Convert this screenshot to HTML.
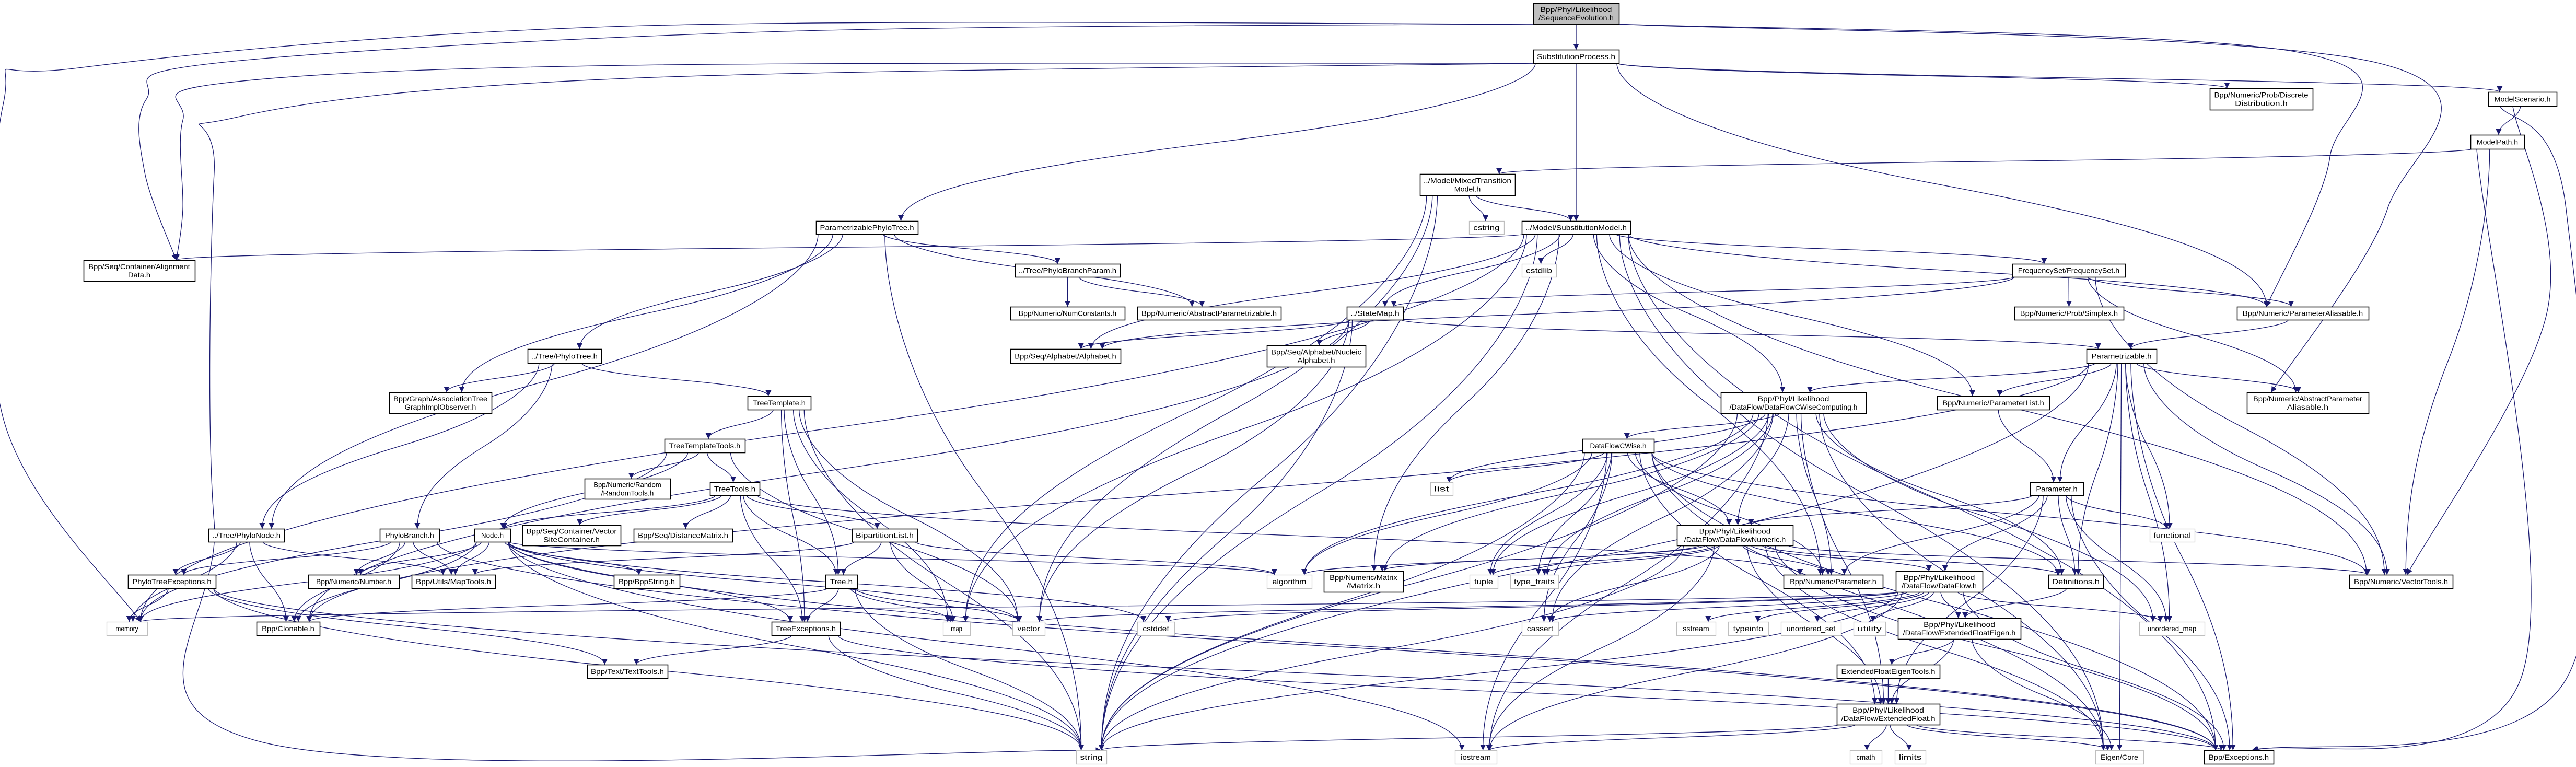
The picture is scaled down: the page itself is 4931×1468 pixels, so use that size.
<!DOCTYPE html>
<html><head><meta charset="utf-8">
<style>
html,body{margin:0;padding:0;background:#fff;}
svg{display:block;}
text{font-family:"Liberation Sans",sans-serif;font-size:14px;fill:#000;}
</style></head>
<body>
<svg id="g" xmlns="http://www.w3.org/2000/svg" width="4931" height="1468" viewBox="0 0 4931 1468">
<defs><marker id="a" viewBox="0 0 10 10" refX="10" refY="5" markerWidth="11" markerHeight="11" markerUnits="userSpaceOnUse" orient="auto"><path d="M0,0 L10,5 L0,10 z" fill="#191970"/></marker></defs>
<g id="edges" fill="none" stroke="#191970" stroke-width="1.3"></g>
<g id="nodes"></g>
</svg>
<div id="lbl" style="display:none">
Bpp/Phyl/Likelihood /SequenceEvolution.h SubstitutionProcess.h ../Model/MixedTransition Model.h cstring ../Model/SubstitutionModel.h cstdlib ../StateMap.h Bpp/Seq/Alphabet/Nucleic Alphabet.h Bpp/Seq/Container/Alignment Data.h ../Tree/PhyloTree.h ParametrizablePhyloTree.h ../Tree/PhyloBranchParam.h Bpp/Numeric/NumConstants.h Bpp/Numeric/AbstractParametrizable.h Bpp/Seq/Alphabet/Alphabet.h Bpp/Numeric/Prob/Discrete Distribution.h ModelScenario.h ModelPath.h FrequencySet/FrequencySet.h Bpp/Numeric/Prob/Simplex.h Bpp/Numeric/ParameterAliasable.h Parametrizable.h Bpp/Graph/AssociationTree GraphImplObserver.h Bpp/Numeric/Random /RandomTools.h ../Tree/PhyloNode.h PhyloBranch.h Node.h Bpp/Seq/Container/Vector SiteContainer.h Bpp/Seq/DistanceMatrix.h PhyloTreeExceptions.h Bpp/Numeric/Number.h Bpp/Utils/MapTools.h Bpp/BppString.h memory Bpp/Clonable.h Bpp/Text/TextTools.h TreeTemplate.h TreeTemplateTools.h TreeTools.h BipartitionList.h Tree.h TreeExceptions.h map vector cstddef string algorithm /DataFlow/DataFlowCWiseComputing.h DataFlowCWise.h list /DataFlow/DataFlowNumeric.h Bpp/Numeric/Matrix /Matrix.h tuple type_traits Bpp/Numeric/Parameter.h /DataFlow/DataFlow.h cassert sstream typeinfo unordered_set utility /DataFlow/ExtendedFloatEigen.h ExtendedFloatEigenTools.h /DataFlow/ExtendedFloat.h iostream cmath limits Bpp/Numeric/ParameterList.h Bpp/Numeric/AbstractParameter Aliasable.h Parameter.h functional Definitions.h Bpp/Numeric/VectorTools.h unordered_map Eigen/Core Bpp/Exceptions.h
</div>
<script>
var N={
SE:[2935,6,164,40,["Bpp/Phyl/Likelihood","/SequenceEvolution.h"],2],
SP:[2935,95,164,26,["SubstitutionProcess.h"]],
MTM:[2718,333,182,41,["../Model/MixedTransition","Model.h"]],
cstring:[2812,423,67,25,["cstring"],1],
SM:[2913,423,208,25,["../Model/SubstitutionModel.h"]],
cstdlib:[2913,505,66,25,["cstdlib"],1],
StateMap:[2578,587,108,25,["../StateMap.h"]],
NucAlph:[2425,661,189,41,["Bpp/Seq/Alphabet/Nucleic","Alphabet.h"]],
AlignData:[160,498,213,40,["Bpp/Seq/Container/Alignment","Data.h"]],
PhyloTree:[1010,668,141,27,["../Tree/PhyloTree.h"]],
PPT:[1562,423,195,25,["ParametrizablePhyloTree.h"]],
PBP:[1943,505,201,25,["../Tree/PhyloBranchParam.h"]],
NumConst:[1934,587,219,25,["Bpp/Numeric/NumConstants.h"]],
AbsParam:[2177,587,275,25,["Bpp/Numeric/AbstractParametrizable.h"]],
Alphabet:[1934,668,211,27,["Bpp/Seq/Alphabet/Alphabet.h"]],
DiscDist:[4230,169,197,41,["Bpp/Numeric/Prob/Discrete","Distribution.h"]],
MScen:[4763,176,131,27,["ModelScenario.h"]],
MPath:[4729,258,103,27,["ModelPath.h"]],
FreqSet:[3852,505,216,25,["FrequencySet/FrequencySet.h"]],
Simplex:[3856,587,209,25,["Bpp/Numeric/Prob/Simplex.h"]],
ParAli:[4282,587,252,25,["Bpp/Numeric/ParameterAliasable.h"]],
Parametrizable:[3994,668,134,27,["Parametrizable.h"]],
ATGIO:[745,751,196,40,["Bpp/Graph/AssociationTree","GraphImplObserver.h"]],
RandomTools:[1119,916,164,39,["Bpp/Numeric/Random","/RandomTools.h"]],
PhyloNode:[399,1012,145,25,["../Tree/PhyloNode.h"]],
PhyloBranch:[727,1012,114,25,["PhyloBranch.h"]],
Node:[908,1012,69,25,["Node.h"]],
VSC:[1000,1005,188,39,["Bpp/Seq/Container/Vector","SiteContainer.h"]],
DistMat:[1213,1012,189,25,["Bpp/Seq/DistanceMatrix.h"]],
PTE:[245,1100,168,26,["PhyloTreeExceptions.h"]],
Number:[590,1100,174,26,["Bpp/Numeric/Number.h"]],
MapTools:[788,1100,160,26,["Bpp/Utils/MapTools.h"]],
BppString:[1175,1100,126,26,["Bpp/BppString.h"]],
memory:[204,1190,78,26,["memory"],1],
Clonable:[491,1190,121,26,["Bpp/Clonable.h"]],
TextTools:[1124,1272,154,26,["Bpp/Text/TextTools.h"]],
TreeTemplate:[1431,758,121,26,["TreeTemplate.h"]],
TTT:[1272,840,154,26,["TreeTemplateTools.h"]],
TreeTools:[1359,923,95,25,["TreeTools.h"]],
BipList:[1631,1012,125,25,["BipartitionList.h"]],
Tree:[1580,1100,61,26,["Tree.h"]],
TreeExc:[1477,1190,131,26,["TreeExceptions.h"]],
map:[1805,1190,52,26,["map"],1],
vector:[1938,1190,62,26,["vector"],1],
cstddef:[2177,1190,71,26,["cstddef"],1],
string:[2060,1436,58,26,["string"],1],
algorithm:[2425,1100,86,26,["algorithm"],1],
DFCWC:[3294,751,278,40,["Bpp/Phyl/Likelihood","/DataFlow/DataFlowCWiseComputing.h"]],
DFCW:[3029,840,137,26,["DataFlowCWise.h"]],
list:[2738,923,43,25,["list"],1],
DFN:[3210,1005,222,39,["Bpp/Phyl/Likelihood","/DataFlow/DataFlowNumeric.h"]],
Matrix:[2534,1093,152,40,["Bpp/Numeric/Matrix","/Matrix.h"]],
tuple:[2813,1100,54,26,["tuple"],1],
type_traits:[2891,1100,92,26,["type_traits"],1],
NParam:[3414,1100,190,26,["Bpp/Numeric/Parameter.h"]],
DataFlow:[3629,1093,166,40,["Bpp/Phyl/Likelihood","/DataFlow/DataFlow.h"]],
cassert:[2913,1190,70,26,["cassert"],1],
sstream:[3209,1190,75,26,["sstream"],1],
typeinfo:[3308,1190,77,26,["typeinfo"],1],
unordered_set:[3409,1190,115,26,["unordered_set"],1],
utility:[3548,1190,61,26,["utility"],1],
EFE:[3633,1183,235,40,["Bpp/Phyl/Likelihood","/DataFlow/ExtendedFloatEigen.h"]],
EFET:[3516,1272,197,26,["ExtendedFloatEigenTools.h"]],
EF:[3516,1347,197,40,["Bpp/Phyl/Likelihood","/DataFlow/ExtendedFloat.h"]],
iostream:[2785,1436,80,26,["iostream"],1],
cmath:[3541,1436,61,26,["cmath"],1],
limits:[3627,1436,59,26,["limits"],1],
ParamList:[3708,758,215,26,["Bpp/Numeric/ParameterList.h"]],
AbsParAli:[4301,751,233,40,["Bpp/Numeric/AbstractParameter","Aliasable.h"]],
Parameter:[3886,923,102,25,["Parameter.h"]],
functional:[4115,1012,86,25,["functional"],1],
Definitions:[3921,1100,105,26,["Definitions.h"]],
VectorTools:[4497,1100,198,26,["Bpp/Numeric/VectorTools.h"]],
unordered_map:[4095,1190,125,26,["unordered_map"],1],
EigenCore:[4011,1436,92,26,["Eigen/Core"],1],
Exceptions:[4219,1436,133,26,["Bpp/Exceptions.h"]]
};
var E=[
["SE","SP"],["SE","AlignData",[[1500,60],[420,120],[280,190],[277,330]]],["SE","memory",[[1200,50],[150,130],[6,200],[6,800]]],["SE","ParAli",[[4400,100],[4460,300]]],["SE","AbsParAli",[[4550,120],[4570,400]]],
["SP","AlignData",[[1200,125],[420,160],[350,230],[350,400]]],["SP","string",[[1200,150],[450,225],[410,330],[410,1000],[500,1420]]],["SP","PPT"],["SP","SM"],["SP","DiscDist"],["SP","MScen"],["SP","ParAli"],
["MScen","MPath"],["MScen","VectorTools",[[4875,600]]],["MScen","Exceptions",[[4912,400],[4912,1300]]],
["MPath","MTM"],["MPath","VectorTools"],["MPath","Exceptions",[[4825,1300]]],
["MTM","cstring"],["MTM","SM"],["MTM","map"],["MTM","string"],["MTM","vector"],
["SM","cstdlib"],["SM","StateMap"],["SM","FreqSet"],["SM","ParAli"],["SM","AlignData"],["SM","Alphabet"],["SM","Matrix"],["SM","NParam"],["SM","ParamList"],["SM","VectorTools"],["SM","Exceptions"],["SM","EigenCore"],["SM","memory"],["SM","string"],["SM","map"],["SM","DFCWC"],
["StateMap","NucAlph"],["StateMap","Alphabet"],["StateMap","Parametrizable"],["StateMap","Clonable"],["StateMap","string"],["StateMap","vector"],
["FreqSet","Simplex"],["FreqSet","ParAli"],["FreqSet","StateMap"],["FreqSet","AbsParAli"],["FreqSet","VectorTools"],["FreqSet","Alphabet"],
["ParAli","Parametrizable"],
["Parametrizable","ParamList"],["Parametrizable","Parameter"],["Parametrizable","functional"],["Parametrizable","Definitions"],["Parametrizable","VectorTools"],["Parametrizable","Exceptions"],["Parametrizable","EigenCore"],["Parametrizable","unordered_map"],["Parametrizable","DFCWC"],["Parametrizable","AbsParAli"],["Parametrizable","Clonable"],["Parametrizable","string"],
["ParamList","Parameter"],["Parameter","functional"],["Parameter","Definitions"],["Parameter","unordered_map"],["Parameter","Exceptions"],["Parameter","EF"],["Parameter","DataFlow"],["Parameter","NParam"],["Parameter","DFN"],
["PPT","PBP"],["PPT","AbsParam"],["PPT","PhyloTree"],["PPT","ATGIO"],["PPT","PhyloNode"],["PPT","string"],
["PBP","NumConst"],["PBP","AbsParam"],
["PhyloTree","ATGIO"],["PhyloTree","PhyloNode"],["PhyloTree","PhyloBranch"],["PhyloTree","TreeTemplate"],
["TreeTemplate","TTT"],["TreeTemplate","Tree"],["TreeTemplate","TreeExc"],["TreeTemplate","map"],["TreeTemplate","vector"],["TreeTemplate","string"],
["TTT","RandomTools"],["TTT","TreeTools"],["TTT","Node"],["TTT","vector"],["TTT","memory"],
["TreeTools","Node"],["TreeTools","VSC"],["TreeTools","DistMat"],["TreeTools","BipList"],["TreeTools","Tree"],["TreeTools","TreeExc"],["TreeTools","NParam"],
["BipList","Tree"],["BipList","map"],["BipList","algorithm"],["BipList","MapTools"],
["Tree","TreeExc"],["Tree","map"],["Tree","vector"],["Tree","string"],["Tree","Clonable"],
["TreeExc","TextTools"],["TreeExc","Exceptions"],["TreeExc","string"],
["Node","Number"],["Node","MapTools"],["Node","BppString"],["Node","TreeExc"],["Node","Clonable"],["Node","memory"],["Node","string"],["Node","iostream"],["Node","Exceptions"],["Node","cstddef"],["Node","vector"],["Node","algorithm"],
["PhyloNode","PTE"],["PhyloNode","memory"],["PhyloNode","Clonable"],["PhyloNode","MapTools"],
["PhyloBranch","PTE"],["PhyloBranch","Number"],["PhyloBranch","MapTools"],["PhyloBranch","Clonable"],["PhyloBranch","Exceptions"],
["PTE","memory"],["PTE","TextTools"],["PTE","Exceptions"],["PTE","string"],
["DFCWC","DFCW"],["DFCWC","DFN"],["DFCWC","NParam"],["DFCWC","list"],["DFCWC","tuple"],["DFCWC","type_traits"],["DFCWC","Matrix"],["DFCWC","algorithm"],["DFCWC","string"],["DFCWC","iostream"],["DFCWC","cassert"],["DFCWC","EF"],["DFCWC","EigenCore"],["DFCWC","unordered_map"],["DFCWC","Definitions"],
["DFCW","list"],["DFCW","DFN"],["DFCW","tuple"],["DFCW","type_traits"],["DFCW","NParam"],["DFCW","cassert"],["DFCW","iostream"],["DFCW","string"],["DFCW","algorithm"],["DFCW","Definitions"],["DFCW","EigenCore"],["DFCW","Exceptions"],["DFCW","EF"],["DFCW","VectorTools"],
["DFN","Matrix"],["DFN","tuple"],["DFN","type_traits"],["DFN","NParam"],["DFN","DataFlow"],["DFN","algorithm"],["DFN","cassert"],["DFN","iostream"],["DFN","string"],["DFN","EF"],["DFN","EigenCore"],["DFN","Exceptions"],["DFN","VectorTools"],["DFN","Definitions"],
["DataFlow","cassert"],["DataFlow","sstream"],["DataFlow","typeinfo"],["DataFlow","unordered_set"],["DataFlow","utility"],["DataFlow","unordered_map"],["DataFlow","string"],["DataFlow","vector"],["DataFlow","iostream"],["DataFlow","Exceptions"],["DataFlow","memory"],["DataFlow","cstddef"],["DataFlow","EFE"],
["Definitions","EFE"],["EFE","EFET"],["EFE","EF"],["EFE","EigenCore"],["EFET","EF"],
["EF","cmath"],["EF","limits"],["EF","iostream"],["EF","string"],["EF","EigenCore"],["EF","Exceptions"]
];
var NS="http://www.w3.org/2000/svg";
var ng=document.getElementById("nodes"),eg=document.getElementById("edges");
function el(t,a,p){var e=document.createElementNS(NS,t);for(var k in a)e.setAttribute(k,a[k]);p.appendChild(e);return e;}
for(var k in N){var n=N[k],x=n[0],y=n[1],w=n[2],h=n[3],L=n[4],s=n[5]||0;
 el("rect",{x:x+.5,y:y+.5,width:w,height:h,fill:s==2?"#bfbfbf":"#fff",stroke:s==1?"#bfbfbf":"#000","stroke-width":s==1?1.3:1.6},ng);
 var lh=16,ty=y+h/2-(L.length-1)*lh/2+5;
 for(var i=0;i<L.length;i++){var t=el("text",{x:x+w/2,y:ty+i*lh,"text-anchor":"middle"},ng);t.textContent=L[i];
  var tl=Math.min(w-14,L[i].length*7.2);t.setAttribute("textLength",tl);t.setAttribute("lengthAdjust","spacingAndGlyphs");}
}
function cr(p){var d="M"+p[0][0]+","+p[0][1];for(var i=0;i<p.length-1;i++){var p0=p[i-1]||p[i],p1=p[i],p2=p[i+1],p3=p[i+2]||p2;
 d+=" C"+(p1[0]+(p2[0]-p0[0])/6)+","+(p1[1]+(p2[1]-p0[1])/6)+" "+(p2[0]-(p3[0]-p1[0])/6)+","+(p2[1]-(p3[1]-p1[1])/6)+" "+p2[0]+","+p2[1];}return d;}
E.forEach(function(e){var a=N[e[0]],b=N[e[1]];var acx=a[0]+a[2]/2,bcx=b[0]+b[2]/2;var p;
 var sx=acx+Math.max(-a[2]/2+4,Math.min(a[2]/2-4,(bcx-acx)*0.08));
 if(b[1]>a[1]+a[3]+5){var s=[sx,a[1]+a[3]],t=[bcx+Math.max(-b[2]/3,Math.min(b[2]/3,(acx-bcx)*0.05)),b[1]];
  if(e[2]){p=[s].concat(e[2]).concat([t]);}else{var dy=t[1]-s[1];
   el("path",{d:"M"+s[0]+","+s[1]+" C"+s[0]+","+(s[1]+dy*0.1)+" "+(s[0]+(t[0]-s[0])*0.1)+","+(s[1]+dy*0.3)+" "+((s[0]+t[0])/2)+","+((s[1]+t[1])/2)+" S"+t[0]+","+(t[1]-dy*0.15)+" "+t[0]+","+t[1],"marker-end":"url(#a)"},eg);return;}
 }else{var right=bcx>acx;var s=[right?a[0]+a[2]:a[0],a[1]+a[3]/2],t=[right?b[0]:b[0]+b[2],b[1]+b[3]/2];
  if(e[2])p=[s].concat(e[2]).concat([t]);else p=[s,t];}
 el("path",{d:cr(p),"marker-end":"url(#a)"},eg);
});
</script>
</body></html>
